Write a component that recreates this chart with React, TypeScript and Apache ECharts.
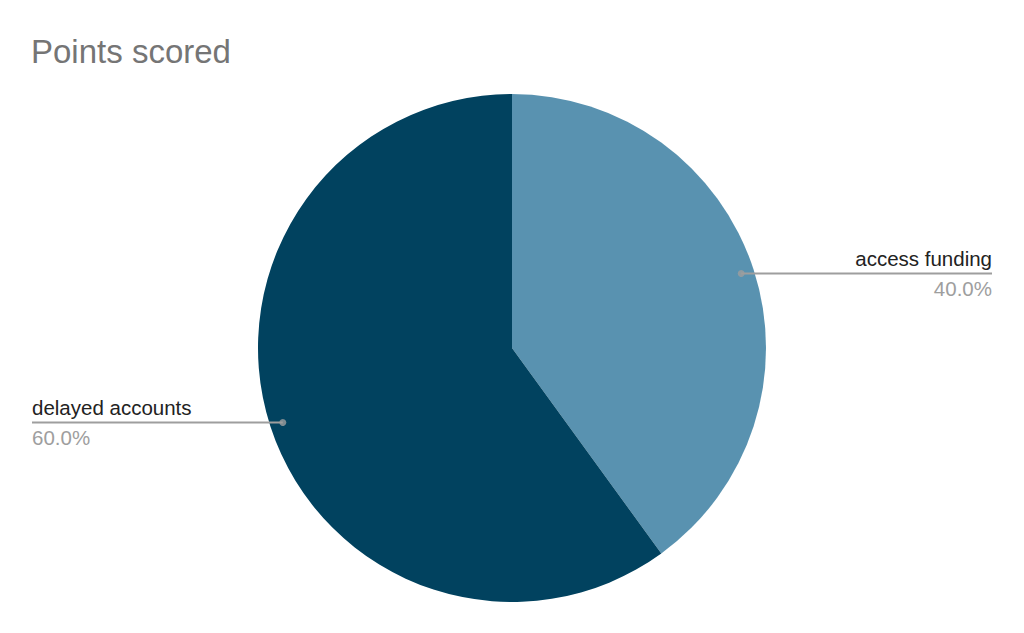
import React, { useEffect, useRef } from "react";
import * as echarts from "echarts";

const title = "Points scored";
const categories = ["access funding", "delayed accounts"];
const values = [40, 60];
const colors = ["#5992b0", "#01425f"];

export default function App() {
  const ref = useRef<HTMLDivElement>(null);
  useEffect(() => {
    document.body.style.margin = "0";
    const chart = echarts.init(ref.current!, null, { renderer: "svg" });
    const total = values.reduce((a, b) => a + b, 0);
    let cum = 0;
    const mids = values.map((v) => {
      const m = cum + v / 2;
      cum += v;
      return [1, (m / total) * 100];
    });
    const pieData = categories.map((c, i) => ({
      name: c,
      value: values[i],
      itemStyle: { color: colors[i] },
    }));
    const W = 1024;
    const edge = 32;
    const font = "Liberation Sans, Arial, sans-serif";
    chart.setOption({
      animation: false,
      title: {
        text: title,
        left: 31,
        top: 35,
        padding: 0,
        textStyle: {
          fontFamily: font,
          fontSize: 33,
          fontWeight: "normal",
          color: "#757575",
        },
      },
      polar: { center: [512, 348], radius: 241 },
      angleAxis: {
        type: "value",
        min: 0,
        max: 100,
        startAngle: 90,
        clockwise: true,
        show: false,
      },
      radiusAxis: { type: "value", min: 0, max: 1, show: false },
      series: [
        {
          type: "pie",
          center: [512, 348],
          radius: 254,
          startAngle: 90,
          clockwise: true,
          silent: true,
          label: { show: false },
          labelLine: { show: false },
          data: pieData,
        },
        {
          type: "pie",
          center: [512, 348],
          radius: 241,
          startAngle: 90,
          clockwise: true,
          silent: true,
          z: 3,
          itemStyle: { color: "rgba(0,0,0,0)" },
          data: categories.map((c, i) => ({
            name: c,
            value: values[i],
            itemStyle: { color: "rgba(0,0,0,0)" },
          })),
          label: {
            show: true,
            position: "outside",
            alignTo: "edge",
            edgeDistance: edge,
            formatter: (p: any) => `{n|${p.name}}\n{p|${p.percent.toFixed(1)}%}`,
            rich: {
              n: {
                fontFamily: font,
                fontSize: 20.5,
                color: "#222222",
                lineHeight: 30,
              },
              p: {
                fontFamily: font,
                fontSize: 20.5,
                color: "#9e9e9e",
                lineHeight: 30,
              },
            },
          },
          labelLine: {
            show: true,
            length: 0,
            length2: 10,
            lineStyle: { color: "#9e9e9e", width: 2 },
          },
          labelLayout: (params: any) => {
            const pts = params.labelLinePoints;
            if (!pts) return {};
            const right = pts[0][0] > 512;
            const x = right ? W - edge : edge;
            return {
              labelLinePoints: [
                [pts[0][0], pts[0][1]],
                [pts[0][0], pts[0][1]],
                [x, pts[0][1]],
              ],
            };
          },
        },
        {
          type: "scatter",
          coordinateSystem: "polar",
          symbol: "circle",
          symbolSize: 7,
          silent: true,
          z: 5,
          itemStyle: { color: "#9e9e9e" },
          data: mids,
        },
      ],
    });
    return () => chart.dispose();
  }, []);
  return <div ref={ref} style={{ width: 1024, height: 633 }} />;
}
